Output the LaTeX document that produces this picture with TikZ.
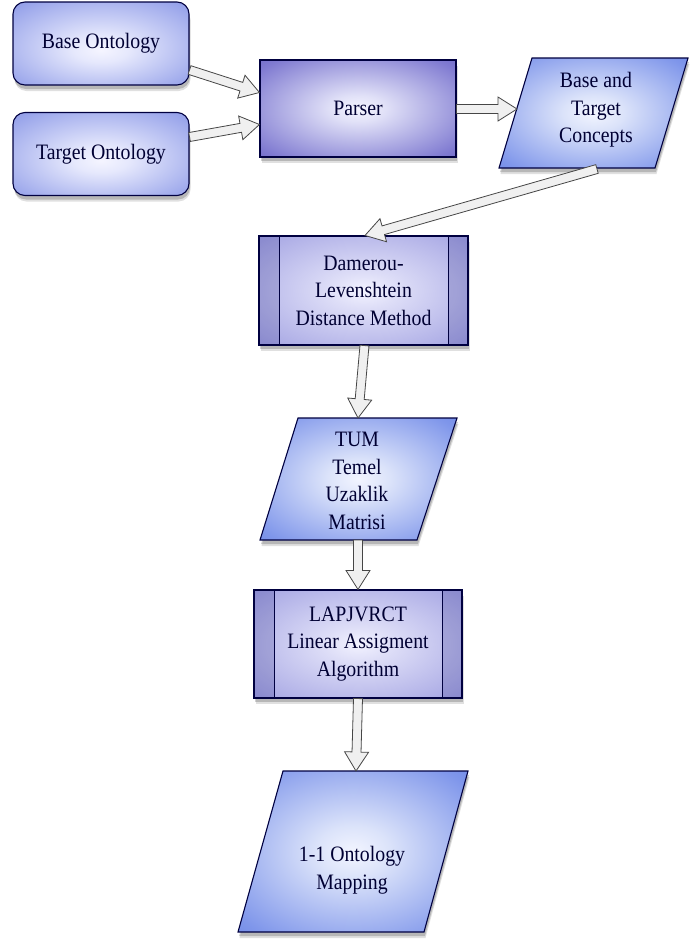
\documentclass[tikz,border=0pt]{standalone}
\usepackage{fontspec}
\setmainfont{Liberation Serif}[FakeStretch=0.9]
\usetikzlibrary{calc,shadows}

\pgfdeclareradialshading{gontology}{\pgfpoint{0bp}{-4bp}}{rgb(0bp)=(0.96,0.96,1); rgb(8bp)=(0.90,0.91,0.99); rgb(36bp)=(0.56,0.61,0.91); rgb(50bp)=(0.45,0.51,0.87)}
\pgfdeclareradialshading{gparser}{\pgfpoint{0bp}{0bp}}{rgb(0bp)=(0.96,0.96,1); rgb(7bp)=(0.88,0.88,0.97); rgb(32bp)=(0.50,0.48,0.82); rgb(50bp)=(0.30,0.27,0.72)}
\pgfdeclareradialshading{gproc}{\pgfpoint{0bp}{0bp}}{rgb(0bp)=(0.95,0.95,1); rgb(8bp)=(0.87,0.87,0.97); rgb(38bp)=(0.62,0.62,0.88); rgb(50bp)=(0.50,0.50,0.83)}
\pgfdeclareradialshading{gpara}{\pgfpoint{0bp}{0bp}}{rgb(0bp)=(0.95,0.96,1); rgb(8bp)=(0.86,0.89,0.98); rgb(32bp)=(0.50,0.59,0.92); rgb(50bp)=(0.32,0.44,0.87)}

\tikzset{
  x=1pt, y=-1pt,
  txt/.style={font=\fontsize{22}{27.5}\selectfont, align=center, text=black!80!blue, inner sep=0pt},
  shad/.style={drop shadow={shadow xshift=1pt, shadow yshift=-4pt, opacity=0.18, fill=black},
               drop shadow={shadow xshift=1.5pt, shadow yshift=-6pt, opacity=0.12, fill=black}},
  ontology/.style={txt, rectangle, rounded corners=12pt, draw=black!75!blue, line width=1.1pt,
    shade, shading=gontology, shad, minimum width=176pt, minimum height=83pt},
  parserbox/.style={txt, rectangle, draw=black!75!blue, line width=1.1pt,
    shade, shading=gparser, shad, minimum width=196pt, minimum height=97pt},
  procbox/.style={txt, rectangle, draw=black!75!blue, line width=1.1pt,
    shade, shading=gproc, shad, minimum width=208pt, minimum height=108pt,
    path picture={
      \fill[blue!40!black, opacity=.16] (path picture bounding box.north west) rectangle ([xshift=20pt]path picture bounding box.south west);
      \fill[blue!40!black, opacity=.16] (path picture bounding box.north east) rectangle ([xshift=-20pt]path picture bounding box.south east);
      \draw[black!75!blue, line width=1pt] ([xshift=20pt]path picture bounding box.north west) -- ([xshift=20pt]path picture bounding box.south west);
      \draw[black!75!blue, line width=1pt] ([xshift=-20pt]path picture bounding box.north east) -- ([xshift=-20pt]path picture bounding box.south east);
    }},
  para/.style={draw=black!75!blue, line width=1.1pt, shade, shading=gpara, shad},
  barrow/.style={fill=gray!12, draw=gray!55!black, line width=0.8pt}
}

\newcommand\blockarrow[2]{%
  \path #1 coordinate (ba) #2 coordinate (bb);
  \coordinate (bh) at ($(bb)!19pt!(ba)$);
  \path[barrow] ($(ba)!4.5pt!90:(bb)$) -- ($(bh)!4.5pt!90:(bb)$) -- ($(bh)!12pt!90:(bb)$) -- (bb)
    -- ($(bh)!12pt!-90:(bb)$) -- ($(bh)!4.5pt!-90:(bb)$) -- ($(ba)!4.5pt!-90:(bb)$) -- cycle;
}

\begin{document}
\begin{tikzpicture}
\useasboundingbox (0,0) rectangle (689,943);
\fill[white] (0,0) rectangle (689,943);

% rectangular nodes
\node[ontology] (base) at (101,43.5) {Base Ontology};
\node[ontology] (target) at (101,154) {Target Ontology};
\node[parserbox] (parser) at (358,108.5) {Parser};
\node[procbox, minimum width=209pt, minimum height=109pt] (dl) at (363.5,290.5) {Damerou-\\Levenshtein\\Distance Method};
\node[procbox] (lap) at (358,644) {LAPJVRCT\\Linear Assigment\\Algorithm};

% parallelograms
\path[para] (499,168) -- (532,58) -- (688,58) -- (655,168) -- cycle;
\node[txt] (concepts) at (596,110) {Base and\\Target\\Concepts};
\coordinate (concepts-in) at (517,109);
\coordinate (concepts-out) at (597,169);

\path[para] (260,540) -- (298,418) -- (457,418) -- (417,540) -- cycle;
\node[txt] (tum) at (357,481) {TUM\\Temel\\Uzaklik\\Matrisi};
\coordinate (tum-in) at (358,418);
\coordinate (tum-out) at (358,540);

\path[para] (238,932) -- (283,771) -- (468,771) -- (424,932) -- cycle;
\node[txt] (map) at (352,870) {1-1 Ontology\\Mapping};
\coordinate (map-in) at (356,771);

% connectors
\blockarrow{($(base.east)+(0,26.5)$)}{($(parser.west)+(0,-16)$)}
\blockarrow{($(target.east)+(0,-17)$)}{($(parser.west)+(0,16)$)}
\blockarrow{($(parser.east)+(0,0.5)$)}{(concepts-in)}
\blockarrow{(concepts-out)}{($(dl.north)+(1.5,0)$)}
\blockarrow{($(dl.south)+(1,0)$)}{(tum-in)}
\blockarrow{(tum-out)}{(lap.north)}
\blockarrow{(lap.south)}{(map-in)}
\end{tikzpicture}
\end{document}
